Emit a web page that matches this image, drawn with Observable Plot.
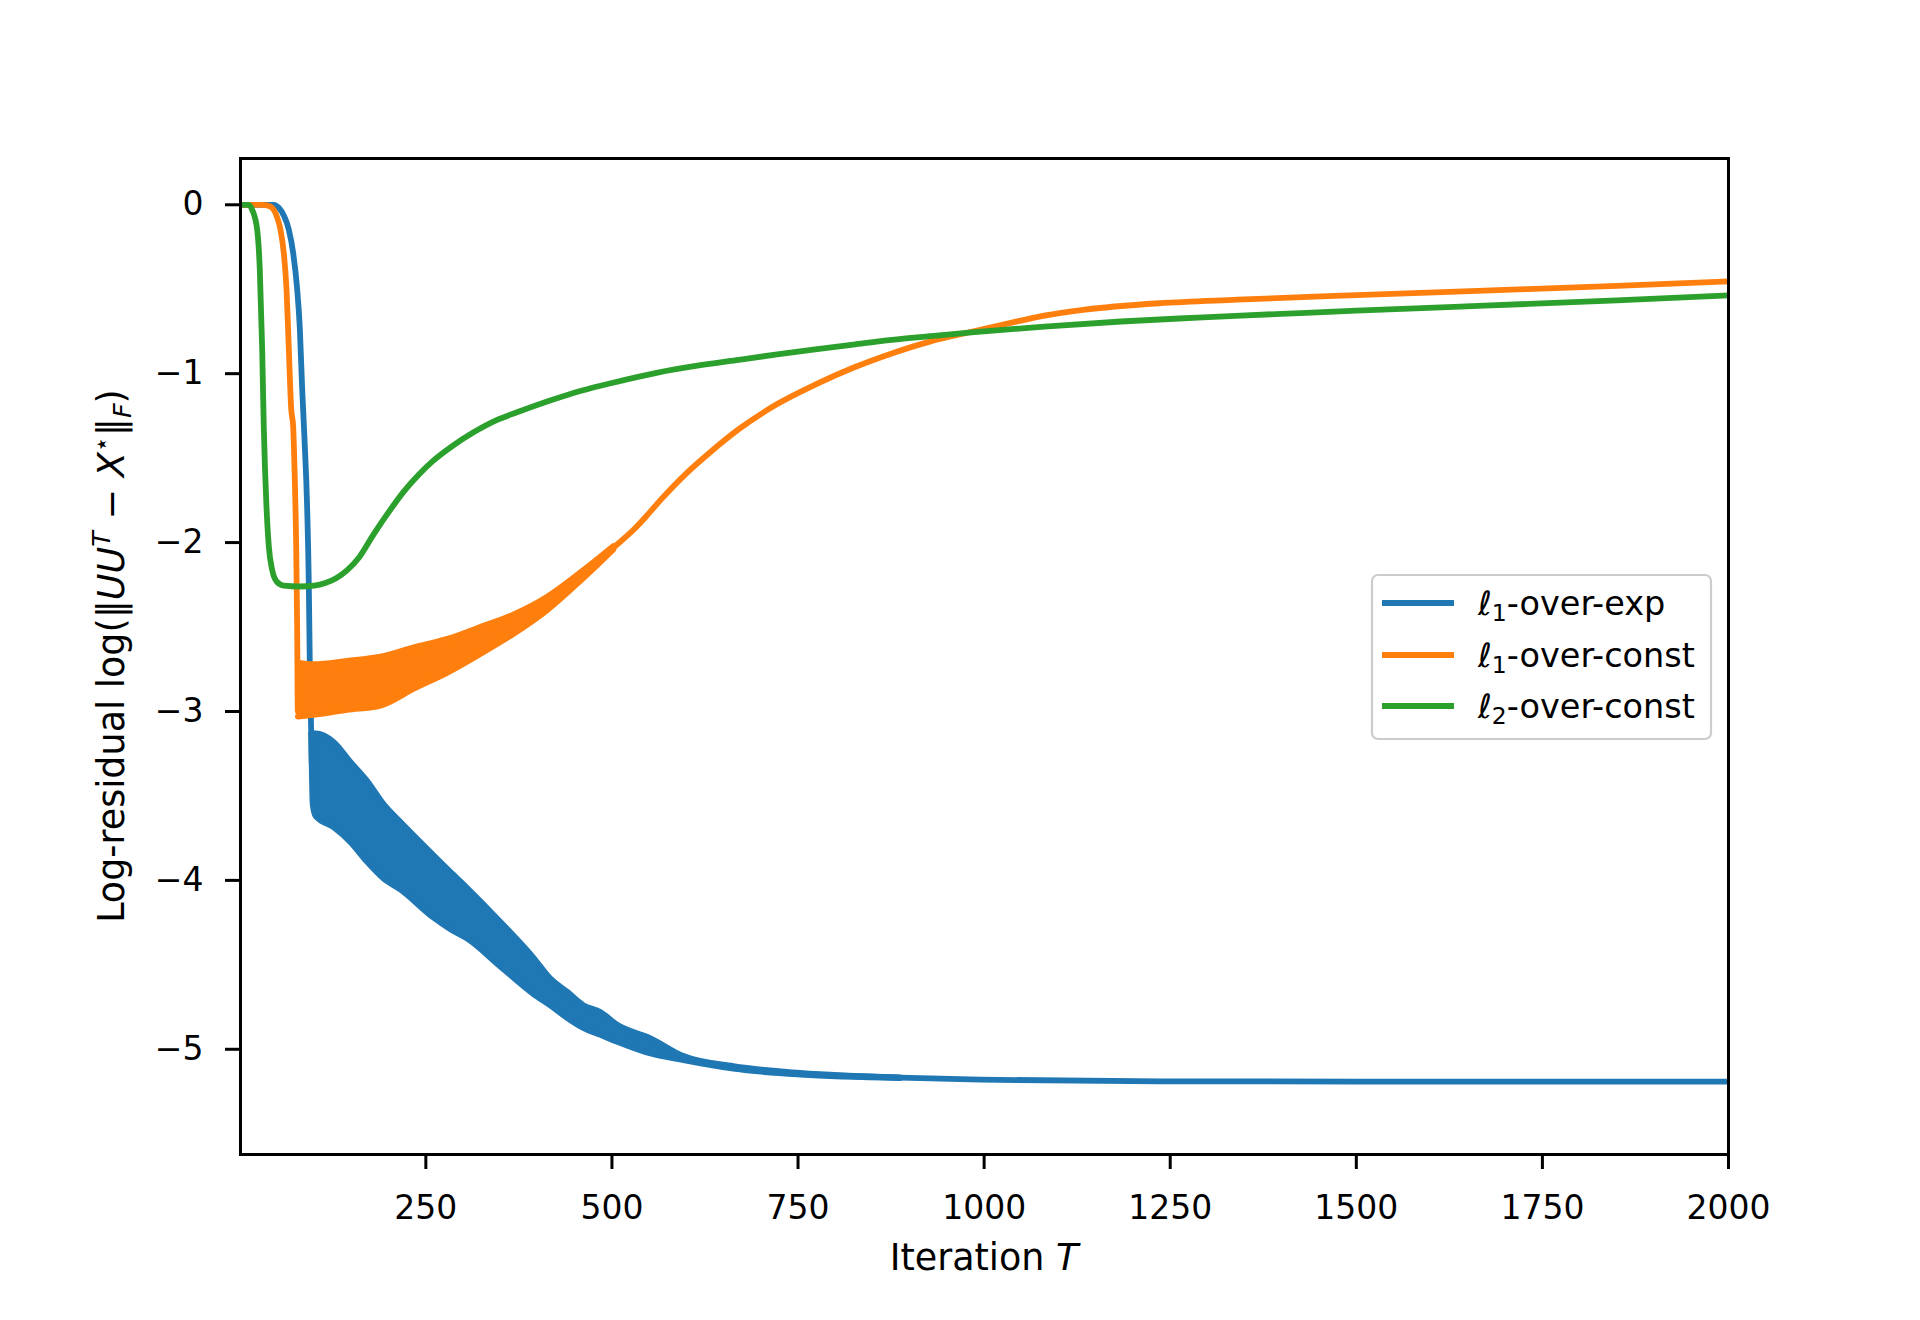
<!DOCTYPE html>
<html><head><meta charset="utf-8">
<script src="https://cdn.jsdelivr.net/npm/d3@7"></script>
<script src="https://cdn.jsdelivr.net/npm/@observablehq/plot@0.6"></script>
<style>
html,body{margin:0;padding:0;background:#fff;}
#chart{position:relative;width:1920px;height:1320px;}
</style></head><body><div id="chart"></div>
<script>
// ---- tick labels ----
const xTicks = [250, 500, 750, 1000, 1250, 1500, 1750, 2000];
const yTicks = [0, -1, -2, -3, -4, -5];

// ---- series names / colours ----
const seriesSub = ["1", "1", "2"];
const seriesRest = ["-over-exp", "-over-const", "-over-const"];
const seriesColor = ["#1f77b4", "#ff7f0e", "#2ca02c"];

// ---- l1-over-exp (blue) ----
const expT = [1, 45.7, 52.4, 59.2, 65.9, 71.8, 77.1, 80.7, 83.8, 87, 90.5, 92.8, 94.1, 96, 97, 126, 171, 216, 260, 305, 350, 395, 440, 484, 507, 552, 596, 663, 753, 887, 995, 1236, 1500, 2000];
const expY = [0, 0, -0.018, -0.064, -0.147, -0.287, -0.498, -0.732, -1.084, -1.389, -1.787, -2.255, -2.723, -3.122, -3.37, -3.43, -3.65, -3.855, -4.035, -4.19, -4.375, -4.565, -4.735, -4.85, -4.90, -4.975, -5.05, -5.11, -5.145, -5.168, -5.18, -5.19, -5.191, -5.192];
const expBandT  = [96, 98, 102, 126, 149, 171, 193.5, 216, 260, 283, 305.5, 350, 395, 417, 440, 462, 484.5, 507, 552, 596, 663, 753, 887];
const expBandHi = [-3.13, -3.13, -3.13, -3.18, -3.30, -3.41, -3.55, -3.655, -3.85, -3.95, -4.045, -4.245, -4.46, -4.58, -4.66, -4.74, -4.78, -4.855, -4.935, -5.04, -5.10, -5.14, -5.166];
const expBandLo = [-3.13, -3.55, -3.62, -3.685, -3.775, -3.89, -3.99, -4.055, -4.22, -4.29, -4.345, -4.51, -4.675, -4.74, -4.815, -4.875, -4.915, -4.955, -5.025, -5.065, -5.115, -5.15, -5.170];

// ---- l1-over-const (orange) ----
const constT = [1, 30, 36.8, 43.5, 50.3, 54.7, 59.2, 62.8, 65.9, 69, 71.8, 73.5, 75.8, 77.1, 78, 99, 144, 189, 234, 279, 323, 368, 413, 458, 502, 530, 547, 567, 600, 632, 670, 722, 773, 824, 876, 927, 983, 1030, 1081, 1133, 1235, 1340, 1500, 1672, 1850, 2000];
const constY = [0, 0, -0.003, -0.018, -0.076, -0.147, -0.287, -0.498, -0.85, -1.201, -1.318, -1.552, -2.02, -2.489, -3.0, -2.87, -2.845, -2.82, -2.74, -2.675, -2.58, -2.48, -2.36, -2.20, -2.03, -1.92, -1.84, -1.74, -1.59, -1.465, -1.33, -1.18, -1.065, -0.965, -0.88, -0.81, -0.752, -0.705, -0.656, -0.622, -0.583, -0.562, -0.535, -0.508, -0.48, -0.453];
const constBandT  = [78, 99, 144, 189, 234, 279, 323, 368, 413, 458, 502];
const constBandHi = [-2.71, -2.72, -2.70, -2.675, -2.62, -2.57, -2.50, -2.425, -2.32, -2.175, -2.02];
const constBandLo = [-3.03, -3.02, -2.99, -2.965, -2.865, -2.77, -2.66, -2.54, -2.40, -2.225, -2.04];

// ---- l2-over-const (green) ----
const l2T = [1, 12, 16.7, 23.4, 26.9, 30.1, 32.3, 35.9, 39, 43.5, 49.8, 59.2, 80, 100, 115, 130, 144, 160, 180, 200, 220, 240, 260, 285, 313, 345, 378, 420, 460, 500, 560, 619, 670, 722, 773, 824, 876, 927, 983, 1081, 1184, 1287, 1345, 1425, 1500, 1672, 1850, 2000];
const l2Y = [0, 0, -0.03, -0.147, -0.381, -0.85, -1.318, -1.787, -2.02, -2.161, -2.232, -2.255, -2.26, -2.255, -2.24, -2.21, -2.165, -2.09, -1.95, -1.82, -1.70, -1.60, -1.515, -1.43, -1.35, -1.275, -1.22, -1.155, -1.10, -1.055, -0.995, -0.95, -0.918, -0.886, -0.856, -0.828, -0.80, -0.778, -0.755, -0.721, -0.691, -0.668, -0.656, -0.641, -0.627, -0.597, -0.566, -0.537];

// ---- tables built from the arrays ----
const toLine = (T, Y) => T.map((t, i) => ({t, y: Y[i]}));
const toBand = (T, H, L) => T.map((t, i) => ({t, hi: H[i], lo: L[i]}));
const expLine = toLine(expT, expY), constLine = toLine(constT, constY), l2Line = toLine(l2T, l2Y);
const expBand = toBand(expBandT, expBandHi, expBandLo);
const constBand = toBand(constBandT, constBandHi, constBandLo);

const LW = 5.8;
const FONT = "DejaVu Sans";
const fmtY = d => d < 0 ? "\u2212" + Math.abs(d) : String(d);

const lineOpts = (c) => ({x: "t", y: "y", stroke: c, strokeWidth: LW, strokeLinejoin: "round", strokeLinecap: "butt", curve: "monotone-x"});
const bandMarks = (band, c) => [
  Plot.areaY(band, {x: "t", y1: "lo", y2: "hi", fill: c, curve: "monotone-x"}),
  Plot.line(band, {x: "t", y: "hi", stroke: c, strokeWidth: LW, strokeLinejoin: "round", curve: "monotone-x"}),
  Plot.line(band, {x: "t", y: "lo", stroke: c, strokeWidth: LW, strokeLinejoin: "round", curve: "monotone-x"})
];

const plot = Plot.plot({
  width: 1920, height: 1320,
  marginTop: 158, marginRight: 192, marginBottom: 166, marginLeft: 240,
  style: {fontFamily: FONT, fontSize: "33px", color: "black", background: "white"},
  x: {domain: [1, 2000]},
  y: {domain: [-5.623, 0.274]},
  marks: [
    Plot.line(expLine, lineOpts(seriesColor[0])),
    ...bandMarks(expBand, seriesColor[0]),
    Plot.line(constLine, lineOpts(seriesColor[1])),
    ...bandMarks(constBand, seriesColor[1]),
    Plot.line(l2Line, lineOpts(seriesColor[2])),
    Plot.frame({stroke: "black", strokeWidth: 3}),
    Plot.axisX({ticks: xTicks, tickSize: 15, tickPadding: 26, tickFormat: d => String(d), label: null, strokeWidth: 3, fontSize: 33}),
    Plot.axisY({ticks: yTicks, tickSize: 15, tickPadding: 22, tickFormat: fmtY, label: null, strokeWidth: 3, fontSize: 33})
  ]
});
document.getElementById("chart").appendChild(plot);

const svg = d3.select(plot);
const LF = 36.5, SF = 25.5;
// y label
const yl = svg.append("text").attr("transform", "translate(124,656) rotate(-90)")
  .attr("text-anchor", "middle").attr("font-family", FONT).attr("font-size", LF).attr("fill", "black");
yl.append("tspan").text("Log-residual log(\u2016");
yl.append("tspan").attr("font-style", "italic").text("UU");
yl.append("tspan").attr("font-style", "italic").attr("font-size", SF).attr("dy", -14).text("T");
yl.append("tspan").attr("dy", 14).text(" \u2212 ");
yl.append("tspan").attr("font-style", "italic").text("X");
yl.append("tspan").attr("font-size", SF).attr("dy", -14).text("\u22C6");
yl.append("tspan").attr("dy", 14).text("\u2016");
yl.append("tspan").attr("font-style", "italic").attr("font-size", SF).attr("dy", 7).text("F");
yl.append("tspan").attr("dy", -7).text(")");

// x label
const xl = svg.append("text").attr("x", 984).attr("y", 1270)
  .attr("text-anchor", "middle").attr("font-family", FONT).attr("font-size", LF).attr("fill", "black");
xl.append("tspan").text("Iteration ");
xl.append("tspan").attr("font-style", "italic").text("T");

// legend
const lg = svg.append("g");
lg.append("rect").attr("x", 1372).attr("y", 575).attr("width", 339).attr("height", 164).attr("rx", 6)
  .attr("fill", "white").attr("fill-opacity", 0.8).attr("stroke", "#cccccc").attr("stroke-width", 2.2);
const rowY = [603, 655, 706];
seriesColor.forEach((c, i) => {
  lg.append("line").attr("x1", 1382).attr("x2", 1454).attr("y1", rowY[i]).attr("y2", rowY[i])
    .attr("stroke", c).attr("stroke-width", LW);
  const t = lg.append("text").attr("x", 1478).attr("y", rowY[i] + 12).attr("text-anchor", "start")
    .attr("font-family", FONT).attr("font-size", 33.5).attr("fill", "black");
  t.append("tspan").attr("font-style", "italic").text("\u2113");
  t.append("tspan").attr("font-size", 23.5).attr("dy", 6).text(seriesSub[i]);
  t.append("tspan").attr("dy", -6).text(seriesRest[i]);
});
</script></body></html>
